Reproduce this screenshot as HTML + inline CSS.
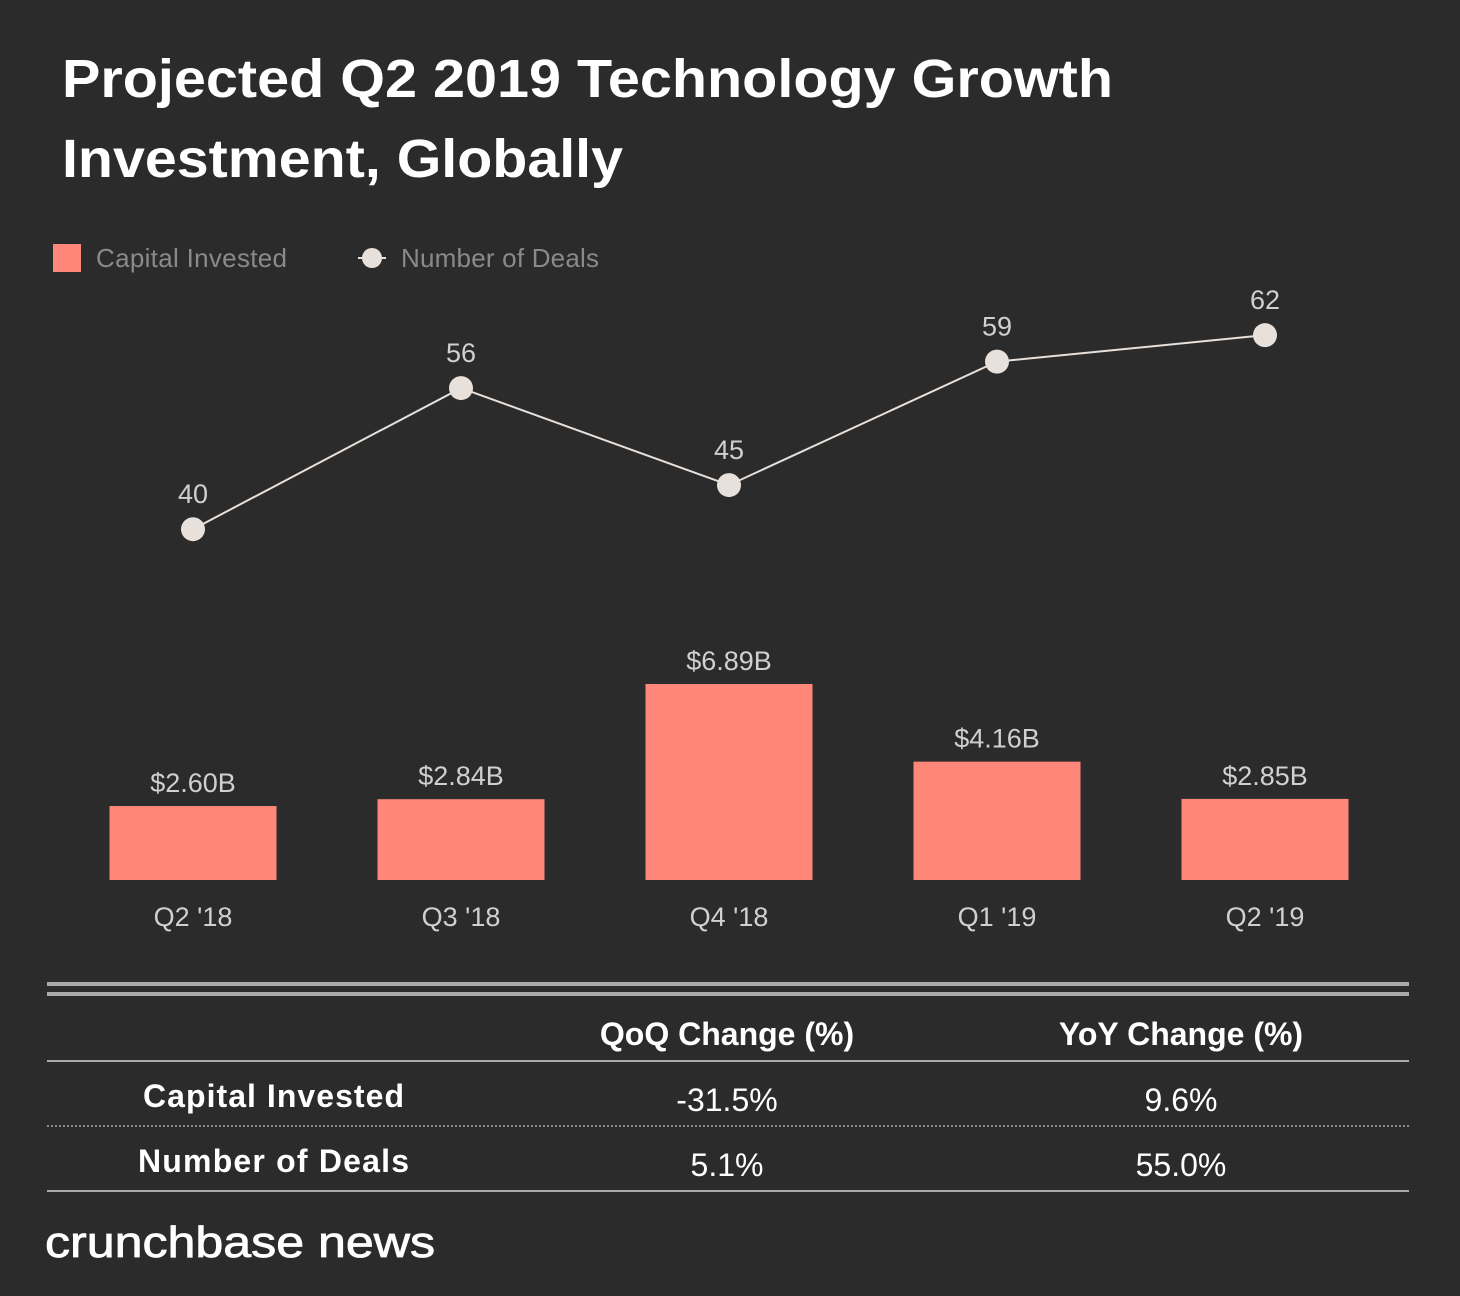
<!DOCTYPE html>
<html><head><meta charset="utf-8"><style>
body{margin:0;background:#2b2b2b;width:1460px;height:1296px;overflow:hidden;font-family:"Liberation Sans",sans-serif;}
svg{display:block}
</style></head><body>
<svg width="1460" height="1296">
<rect width="1460" height="1296" fill="#2b2b2b"/>
<text x="62" y="97" font-size="54" font-weight="bold" fill="#fff" textLength="1051" lengthAdjust="spacingAndGlyphs">Projected Q2 2019 Technology Growth</text>
<text x="62" y="177" font-size="54" font-weight="bold" fill="#fff" textLength="561" lengthAdjust="spacingAndGlyphs">Investment, Globally</text>
<g>
<rect x="53" y="244" width="28" height="28" fill="#ff877a"/>
<text x="96" y="267" font-size="26" fill="#8a8a8a" textLength="191">Capital Invested</text>
<line x1="358" y1="258" x2="386" y2="258" stroke="#e8e0da" stroke-width="2"/>
<circle cx="372" cy="258" r="10" fill="#e8e0da"/>
<text x="401" y="267" font-size="26" fill="#8a8a8a" textLength="198">Number of Deals</text>
</g>
<g id="plot"></g>
<g font-size="32" fill="#fff">
<rect x="47" y="982" width="1362" height="4" fill="#aaa"/>
<rect x="47" y="992" width="1362" height="4" fill="#aaa"/>
<text x="727" y="1045" text-anchor="middle" font-weight="bold">QoQ Change (%)</text>
<text x="1181" y="1045" text-anchor="middle" font-weight="bold">YoY Change (%)</text>
<rect x="47" y="1060" width="1362" height="2" fill="#aaa"/>
<text x="143" y="1107" font-weight="bold" textLength="261">Capital Invested</text>
<text x="727" y="1111" text-anchor="middle">-31.5%</text>
<text x="1181" y="1111" text-anchor="middle">9.6%</text>
<line x1="47" y1="1126" x2="1409" y2="1126" stroke="#aaa" stroke-width="1.5" stroke-dasharray="2,2"/>
<text x="138" y="1172" font-weight="bold" textLength="271">Number of Deals</text>
<text x="727" y="1176" text-anchor="middle">5.1%</text>
<text x="1181" y="1176" text-anchor="middle">55.0%</text>
<rect x="47" y="1190" width="1362" height="2" fill="#aaa"/>
</g>
<text x="45" y="1257" font-size="44" fill="#fff" stroke="#fff" stroke-width="0.8" textLength="390" lengthAdjust="spacingAndGlyphs">crunchbase news</text>
</svg>
<script>
const categories=["Q2 '18","Q3 '18","Q4 '18","Q1 '19","Q2 '19"];
const capital=[2.60,2.84,6.89,4.16,2.85];
const deals=[40,56,45,59,62];
const NS="http://www.w3.org/2000/svg";
const g=document.getElementById('plot');
function xPos(i){return 193+i*268;}
function yBar(v){return 880-v*28.45;}
function yLine(v){return 882-v*8.82;}
function mk(t,a){const e=document.createElementNS(NS,t);for(const k in a)e.setAttribute(k,a[k]);g.appendChild(e);return e;}
categories.forEach((c,i)=>{
 const y=yBar(capital[i]);
 const r=mk('rect',{x:xPos(i)-83.5,y:y,width:167,height:880-y,fill:'#ff877a'});
 
 
 const t=mk('text',{x:xPos(i),y:y-14,'text-anchor':'middle','font-size':27,fill:'#d0d0d0'});
 t.textContent='$'+capital[i].toFixed(2)+'B';
 
 
 const xl=mk('text',{x:xPos(i),y:926,'text-anchor':'middle','font-size':27,fill:'#d0d0d0'});
 xl.textContent=c;
 
 
});
const pts=deals.map((d,i)=>xPos(i)+','+yLine(d)).join(' ');
const pl=mk('polyline',{points:pts,fill:'none',stroke:'#e8e0da','stroke-width':2});


deals.forEach((d,i)=>{
 const c=mk('circle',{cx:xPos(i),cy:yLine(d),r:12,fill:'#e8e0da'});
 
 
 const t=mk('text',{x:xPos(i),y:yLine(d)-26,'text-anchor':'middle','font-size':27,fill:'#d0d0d0'});
 t.textContent=d;
 
 
});
</script>
</body></html>
